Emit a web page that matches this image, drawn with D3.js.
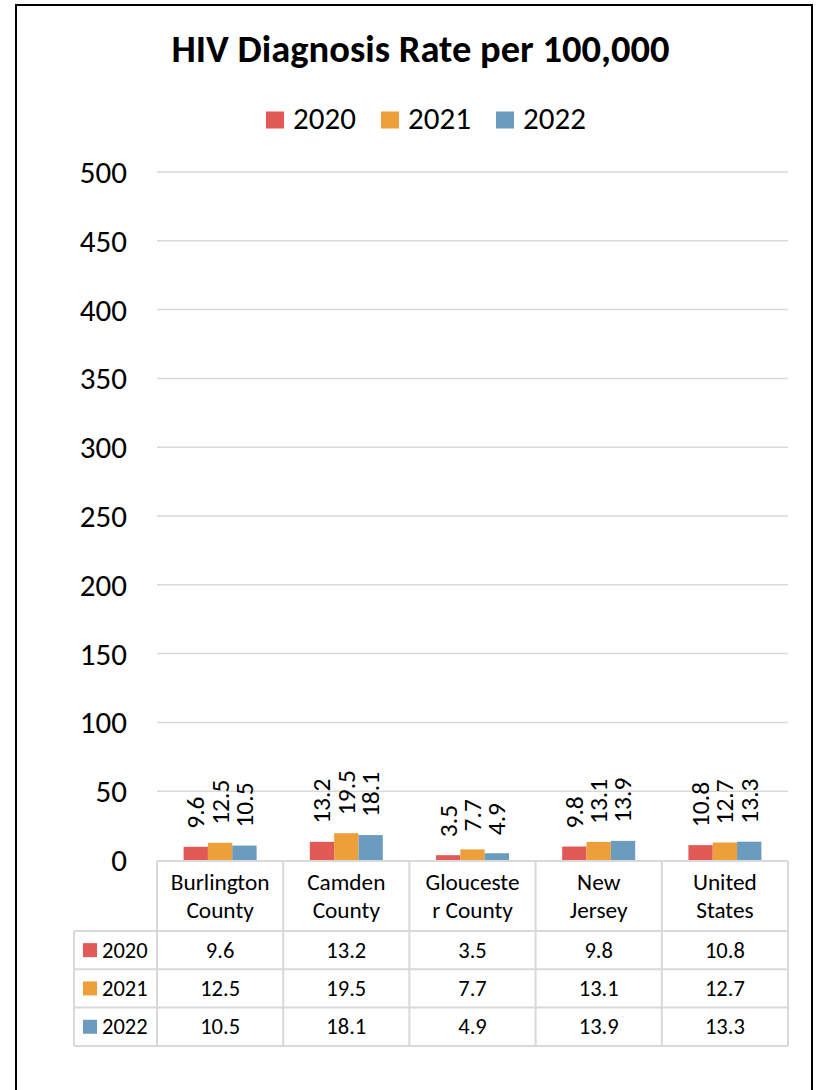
<!DOCTYPE html>
<html>
<head>
<meta charset="utf-8">
<script src="https://cdn.jsdelivr.net/npm/d3@7"></script>
<style>
  html, body { margin: 0; padding: 0; background: #fff; }
  svg { display: block; }
  text { font-family: Carlito, "Liberation Sans", Arial, sans-serif; fill: #000; }
</style>
</head>
<body>
<div id="chart"></div>
<script>
// ---- data ----
const categories = ["Burlington County", "Camden County", "Gloucester County", "New Jersey", "United States"];
const categoryLines = [["Burlington", "County"], ["Camden", "County"], ["Glouceste", "r County"], ["New", "Jersey"], ["United", "States"]];
const seriesNames = ["2020", "2021", "2022"];
const values2020 = [9.6, 13.2, 3.5, 9.8, 10.8];
const values2021 = [12.5, 19.5, 7.7, 13.1, 12.7];
const values2022 = [10.5, 18.1, 4.9, 13.9, 13.3];
const yTicks = [0, 50, 100, 150, 200, 250, 300, 350, 400, 450, 500];
const colors = ["#E15A55", "#EDA03A", "#6B9BBF"];
const title = "HIV Diagnosis Rate per 100,000";

const seriesValues = [values2020, values2021, values2022];

// ---- layout ----
const W = 821, H = 1090;
const plotLeft = 157, plotRight = 788, plotTop = 172, plotBottom = 860;
const groupWidth = 73;
const gridColor = "#d9d9d9";

const svg = d3.select("#chart").append("svg").attr("width", W).attr("height", H);
svg.append("rect").attr("width", W).attr("height", H).attr("fill", "#fff");

// outer border
svg.append("rect")
  .attr("x", 16).attr("y", 5).attr("width", 796).attr("height", 1100)
  .attr("fill", "none").attr("stroke", "#000").attr("stroke-width", 2);

// title
svg.append("text")
  .attr("x", 420.5).attr("y", 62)
  .attr("text-anchor", "middle")
  .style("font-size", "38.5px").style("font-weight", "bold")
  .text(title);

// legend
const legendX = [266, 381, 496];
const legend = svg.append("g");
seriesNames.forEach((s, i) => {
  legend.append("rect").attr("x", legendX[i]).attr("y", 111.5).attr("width", 18).attr("height", 17).attr("fill", colors[i]);
  legend.append("text").attr("x", legendX[i] + 27).attr("y", 128.5).style("font-size", "31px").text(s);
});

// scales
const y = d3.scaleLinear().domain([0, 500]).range([plotBottom, plotTop]);
const x0 = d3.scaleBand().domain(categories).range([plotLeft, plotRight]).padding(0);
const x1 = d3.scaleBand().domain(seriesNames).range([0, groupWidth]).padding(0);
const groupOffset = (x0.bandwidth() - groupWidth) / 2;

// gridlines
svg.append("g").selectAll("line").data(yTicks.filter(t => t > 0)).join("line")
  .attr("x1", plotLeft).attr("x2", plotRight)
  .attr("y1", d => y(d)).attr("y2", d => y(d))
  .attr("stroke", gridColor).attr("stroke-width", 1.5);

// y axis labels
const yAxis = d3.axisLeft(y).tickValues(yTicks).tickSize(0).tickPadding(0).tickFormat(d3.format("d"));
const yg = svg.append("g").attr("transform", `translate(127,0)`).call(yAxis);
yg.select(".domain").remove();
yg.selectAll("text").style("font-size", "31px").attr("fill", "#000").attr("dy", "0.34em");

// bars
const groups = svg.append("g").selectAll("g").data(categories).join("g")
  .attr("transform", d => `translate(${x0(d) + groupOffset},0)`);

seriesNames.forEach((s, si) => {
  groups.append("rect")
    .attr("x", x1(s))
    .attr("width", x1.bandwidth())
    .attr("y", (d, ci) => y(seriesValues[si][ci]))
    .attr("height", (d, ci) => y(0) - y(seriesValues[si][ci]))
    .attr("fill", colors[si]);
  groups.append("text")
    .attr("transform", (d, ci) => `translate(${x1(s) + x1.bandwidth() / 2},${y(seriesValues[si][ci]) - 18}) rotate(-90)`)
    .attr("dy", "0.33em")
    .attr("text-anchor", "start")
    .style("font-size", "25.5px")
    .text((d, ci) => seriesValues[si][ci]);
});

// data table
const headerBottom = 931;
const rowH = 38.3;
const legendColLeft = 74;
const tableBottom = headerBottom + rowH * seriesNames.length;
const table = svg.append("g");

// horizontal lines
table.append("line").attr("x1", plotLeft).attr("x2", plotRight).attr("y1", plotBottom + 1).attr("y2", plotBottom + 1)
  .attr("stroke", gridColor).attr("stroke-width", 2);
for (let r = 0; r <= seriesNames.length; r++) {
  const yy = headerBottom + r * rowH;
  table.append("line").attr("x1", legendColLeft).attr("x2", plotRight).attr("y1", yy).attr("y2", yy)
    .attr("stroke", gridColor).attr("stroke-width", 2);
}
// vertical lines
const colEdges = categories.map(c => x0(c)).concat([plotRight]);
colEdges.forEach(xx => {
  table.append("line").attr("x1", xx).attr("x2", xx).attr("y1", plotBottom + 1).attr("y2", tableBottom)
    .attr("stroke", gridColor).attr("stroke-width", 2);
});
table.append("line").attr("x1", legendColLeft).attr("x2", legendColLeft).attr("y1", headerBottom).attr("y2", tableBottom)
  .attr("stroke", gridColor).attr("stroke-width", 2);

// header category labels
categories.forEach((c, ci) => {
  const cx = x0(c) + x0.bandwidth() / 2;
  categoryLines[ci].forEach((line, li) => {
    table.append("text").attr("x", cx).attr("y", 889.5 + li * 28)
      .attr("text-anchor", "middle").style("font-size", "23.3px").text(line);
  });
});

// rows
seriesNames.forEach((s, si) => {
  const cy = headerBottom + si * rowH + rowH / 2;
  table.append("rect").attr("x", 83).attr("y", cy - 7).attr("width", 14).attr("height", 14).attr("fill", colors[si]);
  table.append("text").attr("x", 102).attr("y", cy).attr("dy", "0.33em").style("font-size", "22.5px").text(s);
  categories.forEach((c, ci) => {
    table.append("text").attr("x", x0(c) + x0.bandwidth() / 2).attr("y", cy).attr("dy", "0.33em")
      .attr("text-anchor", "middle").style("font-size", "22.5px").text(seriesValues[si][ci]);
  });
});
</script>
</body>
</html>
